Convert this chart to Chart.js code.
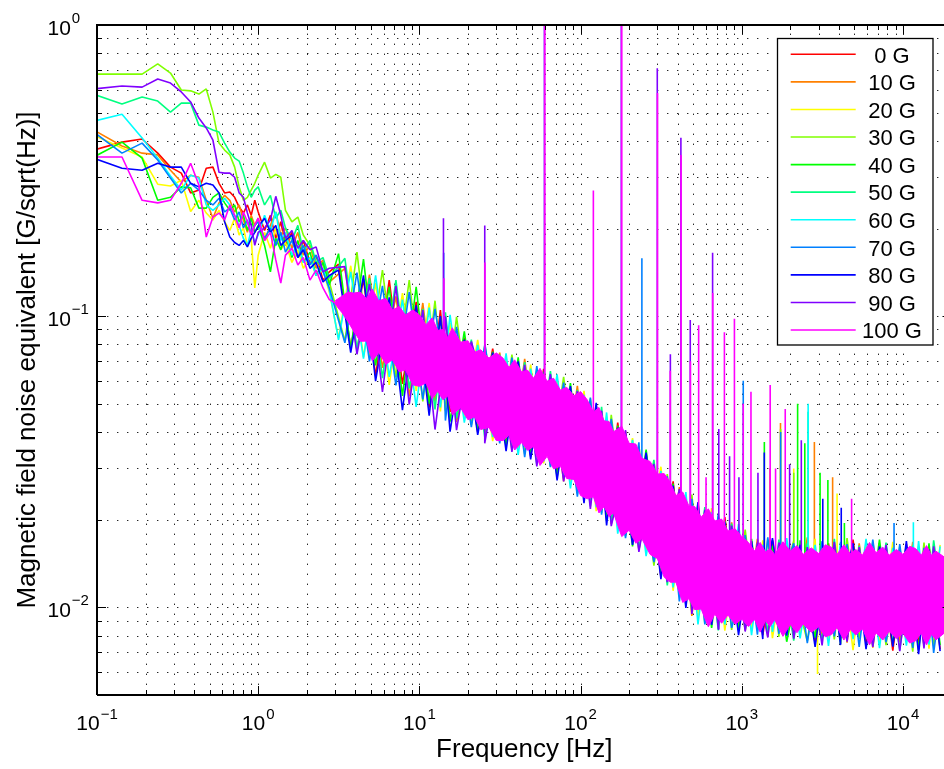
<!DOCTYPE html>
<html><head><meta charset="utf-8">
<script src="https://cdn.jsdelivr.net/npm/chart.js@4.4.0/dist/chart.umd.min.js"></script>
<style>
html,body{margin:0;padding:0;background:#fff;overflow:hidden;}
#wrap{width:944px;height:769px;overflow:hidden;position:relative;background:#fff;}
canvas{display:block;}
</style></head><body>
<div id="wrap"><canvas id="c" width="960" height="769"></canvas></div>
<script>
// ---------- DATA ----------
const seriesLabels = ['0 G','10 G','20 G','30 G','40 G','50 G','60 G','70 G','80 G','90 G','100 G'];
const seriesColors = ['#ff0000','#ff8000','#ffff00','#80ff00','#00ff00','#00ff80','#00ffff','#0080ff','#0000ff','#8000ff','#ff00ff'];

// low-frequency FFT bins (Hz)
const lfFreq = [0.0952,0.1429,0.1905,0.2381,0.2857,0.3333,0.3810,0.4286,0.4762,0.5238,0.5714,0.6190,0.6667,0.7143,0.7619,0.8095,0.8571,0.9048,0.9524,1.0,1.0952,1.1905,1.2857,1.3810,1.4762,1.6190,1.7619,1.9048,2.0952,2.2857,2.5238,2.7619];

const s0   = [0.372,0.396,0.406,0.363,0.325,0.310,0.265,0.271,0.322,0.325,0.286,0.265,0.267,0.256,0.237,0.226,0.241,0.222,0.250,0.228,0.197,0.222,0.185,0.211,0.175,0.194,0.159,0.182,0.153,0.162,0.133,0.142];
const s10  = [0.436,0.384,0.363,0.358,0.317,0.289,0.305,0.300,0.250,0.217,0.245,0.260,0.250,0.228,0.241,0.214,0.194,0.222,0.205,0.217,0.182,0.205,0.228,0.190,0.201,0.171,0.194,0.162,0.175,0.146,0.156,0.131];
const s20  = [0.419,0.378,0.352,0.284,0.280,0.293,0.229,0.250,0.226,0.214,0.231,0.211,0.197,0.217,0.190,0.201,0.175,0.185,0.125,0.162,0.194,0.171,0.201,0.169,0.179,0.153,0.169,0.146,0.159,0.138,0.144,0.121];
const s30  = [0.678,0.678,0.678,0.735,0.684,0.598,0.594,0.579,0.603,0.502,0.393,0.372,0.358,0.325,0.278,0.250,0.256,0.271,0.286,0.305,0.338,0.298,0.307,0.300,0.231,0.211,0.219,0.190,0.175,0.153,0.150,0.131];
const s40  = [0.352,0.396,0.349,0.250,0.256,0.278,0.276,0.235,0.235,0.256,0.265,0.245,0.231,0.241,0.211,0.222,0.197,0.217,0.194,0.205,0.175,0.142,0.185,0.169,0.190,0.159,0.182,0.153,0.166,0.138,0.153,0.128];
const s50  = [0.579,0.535,0.566,0.548,0.502,0.539,0.539,0.453,0.446,0.436,0.429,0.393,0.366,0.349,0.341,0.310,0.278,0.256,0.271,0.278,0.241,0.260,0.217,0.231,0.201,0.182,0.205,0.166,0.182,0.153,0.159,0.135];
const s60  = [0.467,0.494,0.409,0.349,0.303,0.271,0.305,0.298,0.241,0.231,0.241,0.254,0.241,0.222,0.205,0.185,0.175,0.197,0.179,0.190,0.222,0.197,0.228,0.182,0.194,0.162,0.175,0.153,0.159,0.138,0.146,0.123];
const s70  = [0.429,0.363,0.393,0.344,0.298,0.265,0.286,0.271,0.250,0.241,0.254,0.228,0.235,0.214,0.228,0.201,0.214,0.190,0.205,0.211,0.185,0.201,0.175,0.194,0.166,0.182,0.159,0.175,0.150,0.162,0.142,0.125];
const s80  = [0.349,0.322,0.317,0.335,0.325,0.325,0.286,0.278,0.286,0.282,0.265,0.211,0.187,0.179,0.175,0.182,0.173,0.185,0.194,0.203,0.217,0.194,0.205,0.175,0.182,0.190,0.159,0.169,0.146,0.153,0.131,0.138];
const s90  = [0.603,0.617,0.612,0.652,0.632,0.589,0.544,0.479,0.443,0.402,0.312,0.310,0.310,0.300,0.265,0.256,0.226,0.205,0.175,0.194,0.201,0.214,0.258,0.222,0.185,0.197,0.171,0.182,0.169,0.173,0.142,0.146];
const s100 = [0.352,0.352,0.250,0.245,0.250,0.286,0.335,0.282,0.187,0.219,0.226,0.214,0.241,0.222,0.201,0.228,0.211,0.190,0.205,0.217,0.182,0.194,0.156,0.130,0.162,0.171,0.150,0.159,0.133,0.144,0.125,0.114];

// broadband noise region: sample frequencies (Hz)
const tipFreqA = [3.15,3.75,4.5,5.35,6.5,7.85,9.55,11.5,13.5,15.5,19,23,28.5,34.5,41,49,59,71.5,86.5,105,125,145,170,210,255,315,375,450,535,650,785,955,1150,1350,1550,1900,2300,2850,3450,4100,4900,5900,7150,8650,10500,12500,14500,17000];
const tipFreqB = [3.45,4.1,4.9,5.9,7.15,8.65,10.5,12.5,14.5,17,21,25.5,31.5,37.5,45,53.5,65,78.5,95.5,115,135,155,190,230,285,345,410,490,590,715,865,1050,1250,1450,1700,2100,2550,3150,3750,4500,5350,6500,7850,9550,11500,13500,15500,19000];

const band0  = [0.151,0.0780,0.134,0.0622,0.133,0.0585,0.112,0.0485,0.105,0.0469,0.0844,0.0400,0.0774,0.0372,0.0688,0.0330,0.0659,0.0293,0.0566,0.0236,0.0496,0.0206,0.0431,0.0170,0.0335,0.0128,0.0271,0.0105,0.0223,0.00885,0.0204,0.00862,0.0168,0.00803,0.0170,0.00812,0.0161,0.00755,0.0166,0.00791,0.0171,0.00753,0.0160,0.00710,0.0165,0.00754,0.0162,0.00718];
const band10 = [0.146,0.0760,0.139,0.0664,0.117,0.0530,0.111,0.0509,0.0982,0.0433,0.0811,0.0396,0.0750,0.0347,0.0713,0.0328,0.0623,0.0271,0.0576,0.0229,0.0469,0.0193,0.0403,0.0157,0.0316,0.0125,0.0259,0.00934,0.0214,0.00882,0.0196,0.00832,0.0172,0.00794,0.0165,0.00807,0.0174,0.00801,0.0162,0.00757,0.0166,0.00727,0.0162,0.00760,0.0168,0.00735,0.0159,0.00710];
const band20 = [0.0840,0.149,0.0725,0.130,0.0581,0.120,0.0554,0.111,0.0471,0.0946,0.0448,0.0829,0.0372,0.0723,0.0353,0.0682,0.0312,0.0611,0.0266,0.0554,0.0214,0.0452,0.0188,0.0381,0.0156,0.0304,0.0114,0.0239,0.00931,0.0219,0.00832,0.0186,0.00836,0.0170,0.00784,0.0165,0.00808,0.0172,0.00772,0.0161,0.00713,0.0165,0.00753,0.0168,0.00763,0.0162,0.00721,0.0164];
const band30 = [0.0820,0.166,0.0720,0.144,0.0616,0.133,0.0510,0.113,0.0474,0.0994,0.0423,0.0795,0.0378,0.0738,0.0336,0.0659,0.0305,0.0619,0.0246,0.0521,0.0211,0.0458,0.0176,0.0358,0.0139,0.0287,0.01092,0.0244,0.00880,0.0205,0.00836,0.0185,0.00839,0.0171,0.00792,0.0169,0.00766,0.0162,0.00776,0.0173,0.00780,0.0168,0.00741,0.0162,0.00704,0.0167,0.00737,0.0163];
const band40 = [0.164,0.0770,0.157,0.0678,0.126,0.0532,0.126,0.0500,0.0989,0.0434,0.0886,0.0410,0.0756,0.0358,0.0722,0.0335,0.0644,0.0280,0.0589,0.0239,0.0488,0.0198,0.0421,0.0162,0.0348,0.0133,0.0266,0.0102,0.0227,0.00850,0.0198,0.00835,0.0172,0.00842,0.0163,0.00762,0.0170,0.00786,0.0164,0.00748,0.0165,0.00778,0.0171,0.00745,0.0160,0.00713,0.0166,0.00742];
const band50 = [0.158,0.0770,0.135,0.0613,0.133,0.0565,0.106,0.0478,0.103,0.0446,0.0831,0.0381,0.0738,0.0356,0.0696,0.0310,0.0648,0.0278,0.0558,0.0222,0.0488,0.0197,0.0393,0.0158,0.0321,0.0119,0.0251,0.00972,0.0221,0.00834,0.0194,0.00839,0.0165,0.00813,0.0171,0.00769,0.0166,0.00776,0.0172,0.00780,0.0163,0.00738,0.0167,0.00713,0.0163,0.00740,0.0170,0.00751];
const band60 = [0.0830,0.142,0.0715,0.138,0.0619,0.114,0.0488,0.107,0.0486,0.101,0.0431,0.0797,0.0384,0.0745,0.0334,0.0660,0.0317,0.0631,0.0256,0.0537,0.0221,0.0467,0.0179,0.0376,0.0150,0.0294,0.0117,0.0249,0.00874,0.0212,0.00873,0.0193,0.00803,0.0164,0.00823,0.0173,0.00783,0.0164,0.00737,0.0168,0.00778,0.0172,0.00724,0.0160,0.00739,0.0169,0.00745,0.0162];
const band70 = [0.0810,0.141,0.0700,0.127,0.0579,0.121,0.0518,0.106,0.0438,0.0919,0.0416,0.0801,0.0366,0.0720,0.0328,0.0674,0.0303,0.0591,0.0240,0.0525,0.0208,0.0444,0.0173,0.0369,0.0143,0.0282,0.01049,0.0236,0.00873,0.0209,0.00850,0.0177,0.00806,0.0174,0.00811,0.0166,0.00754,0.0169,0.00795,0.0165,0.00732,0.0171,0.00759,0.0165,0.00726,0.0160,0.00698,0.0167];
const band80 = [0.144,0.0750,0.138,0.0598,0.116,0.0476,0.109,0.0455,0.100,0.0401,0.0831,0.0391,0.0750,0.0344,0.0700,0.0322,0.0628,0.0273,0.0575,0.0228,0.0504,0.0191,0.0414,0.0164,0.0340,0.0125,0.0262,0.00995,0.0230,0.00870,0.0196,0.00803,0.0169,0.00778,0.0173,0.00799,0.0164,0.00732,0.0161,0.00742,0.0166,0.00718,0.0162,0.00733,0.0169,0.00691,0.0158,0.00707];
const band90 = [0.148,0.0740,0.129,0.0549,0.127,0.0498,0.105,0.0408,0.0998,0.0406,0.0818,0.0366,0.0727,0.0342,0.0680,0.0305,0.0633,0.0271,0.0553,0.0218,0.0473,0.0190,0.0406,0.0155,0.0311,0.0122,0.0255,0.00949,0.0216,0.00841,0.0191,0.00826,0.0167,0.00788,0.0167,0.00781,0.0161,0.00740,0.0168,0.00762,0.0161,0.00732,0.0164,0.00707,0.0159,0.00723,0.0162,0.00699];

// 100 G dense band: upper / lower extent on its own grid
const bandFreq = [3.0,3.3,3.6,3.9,4.3,4.7,5.1,5.6,6.2,6.8,7.5,8.2,9.1,10,11,12,13,14,15,16,18,20,22,24,27,30,33,36,39,43,47,51,56,62,68,75,82,91,100,110,120,130,140,150,160,180,200,220,240,270,300,330,360,390,430,470,510,560,620,680,750,820,910,1000,1100,1200,1300,1400,1500,1600,1800,2000,2200,2400,2700,3000,3300,3600,3900,4300,4700,5100,5600,6200,6800,7500,8200,9100,10000,11000,12000,13000,14000,15000,16000,18000,20000];
const band100Hi = [0.113,0.117,0.121,0.120,0.121,0.115,0.124,0.113,0.115,0.105,0.108,0.101,0.105,0.101,0.0935,0.0987,0.0894,0.0900,0.0843,0.0912,0.0814,0.0823,0.0752,0.0767,0.0718,0.0748,0.0718,0.0666,0.0708,0.0644,0.0652,0.0612,0.0662,0.0598,0.0612,0.0557,0.0570,0.0533,0.0551,0.0516,0.0468,0.0486,0.0437,0.0435,0.0401,0.0419,0.0366,0.0364,0.0325,0.0317,0.0287,0.0288,0.0269,0.0242,0.0249,0.0223,0.0222,0.0204,0.0218,0.0198,0.0201,0.0183,0.0186,0.0175,0.0167,0.0156,0.0167,0.0155,0.0159,0.0152,0.0168,0.0156,0.0163,0.0152,0.0160,0.0153,0.0164,0.0161,0.0152,0.0164,0.0153,0.0158,0.0151,0.0167,0.0154,0.0161,0.0151,0.0158,0.0152,0.0162,0.0159,0.0151,0.0163,0.0151,0.0156,0.0149,0.0165];
const band100Lo = [0.110,0.103,0.096,0.089,0.0820,0.0821,0.0702,0.0751,0.0683,0.0708,0.0644,0.0654,0.0581,0.0574,0.0590,0.0521,0.0552,0.0516,0.0532,0.0458,0.0485,0.0441,0.0451,0.0408,0.0415,0.0374,0.0374,0.0390,0.0347,0.0368,0.0346,0.0357,0.0307,0.0330,0.0299,0.0305,0.0277,0.0275,0.0242,0.0236,0.0240,0.0211,0.0222,0.0205,0.0211,0.0175,0.0184,0.0166,0.0172,0.0152,0.0147,0.0127,0.0122,0.0122,0.0104,0.0107,0.00982,0.00987,0.00857,0.00947,0.00882,0.00941,0.00875,0.00911,0.00859,0.00910,0.00822,0.00900,0.00859,0.00907,0.00795,0.00873,0.00818,0.00877,0.00821,0.00857,0.00792,0.00806,0.00853,0.00772,0.00839,0.00804,0.00845,0.00743,0.00818,0.00772,0.00827,0.00781,0.00815,0.00754,0.00768,0.00816,0.00743,0.00808,0.00773,0.00815,0.00717];

// narrow lines (mains harmonics etc.): [frequency Hz, peak value, surrounding level]
const spikes0   = [[1501,0.030,0.0117]];
const spikes10  = [[1738,0.043,0.0117],[2820,0.037,0.0113],[3660,0.028,0.0113]];
const spikes20  = [[2100,0.030,0.0117],[2950,0.0059,0.0113],[3900,0.0246,0.0113]];
const spikes30  = [[1741,0.041,0.0117],[2101,0.029,0.0117]];
const spikes40  = [[1380,0.037,0.0118],[2220,0.050,0.0117],[2460,0.0366,0.0117],[3060,0.029,0.0113],[3420,0.0274,0.0113],[4330,0.0195,0.0113]];
const spikes50  = [[2579,0.047,0.0117]];
const spikes60  = [[2580,0.050,0.0117],[11600,0.0196,0.0111]];
const spikes70  = [[14.15,0.165,0.068],[240,0.158,0.024],[1021,0.060,0.0119],[1742,0.040,0.0117],[8800,0.0195,0.0111]];
const spikes80  = [[1379,0.034,0.0118],[3180,0.0236,0.0113],[4140,0.022,0.0113]];
const spikes90  = [[14.1,0.217,0.068],[25.4,0.205,0.056],[59.6,1.5,0.045],[178.8,1.5,0.027],[299,0.71,0.0205],[360.5,0.074,0.018],[419,0.41,0.017],[479,0.097,0.0154],[659,0.165,0.0137],[720,0.041,0.0135],[840,0.033,0.013],[960,0.028,0.0126],[1260,0.029,0.0118],[1980,0.031,0.0117],[2340,0.0375,0.0117]];
const spikes100 = [[14.2,0.135,0.068],[25.5,0.153,0.056],[60,1.5,0.045],[120,0.27,0.034],[180,1.5,0.027],[300,0.584,0.0205],[360,0.065,0.018],[420,0.358,0.017],[480,0.070,0.0154],[540,0.093,0.0143],[600,0.028,0.0139],[660,0.12,0.0137],[780,0.088,0.0132],[900,0.098,0.0127],[1020,0.050,0.0119],[1140,0.055,0.0118],[1500,0.058,0.0117],[1620,0.030,0.0117],[1860,0.048,0.0117],[4800,0.0236,0.0113]];

// axis tick exponents
const xTickExp = [-1,0,1,2,3,4];
const yTickExp = [-2,-1,0];
const minorMult = [2,3,4,5,6,7,8,9];

// ---------- BUILD ----------
const lowVals = [s0,s10,s20,s30,s40,s50,s60,s70,s80,s90,s100];
const bandVals = [band0,band10,band20,band30,band40,band50,band60,band70,band80,band90,null];
const bandGrid = [tipFreqA,tipFreqB,tipFreqA,tipFreqB,tipFreqA,tipFreqB,tipFreqA,tipFreqB,tipFreqA,tipFreqB,null];
const spikeLists = [spikes0,spikes10,spikes20,spikes30,spikes40,spikes50,spikes60,spikes70,spikes80,spikes90,spikes100];

const datasets = [];
for (let s = 0; s < 11; s++) {
  let pts = lfFreq.map((f, i) => ({x: f, y: lowVals[s][i]}));
  if (bandVals[s]) pts = pts.concat(bandGrid[s].map((f, i) => ({x: f, y: bandVals[s][i]})));
  spikeLists[s].forEach(([f, peak, base]) => {
    pts.push({x: f * 0.9996, y: base}, {x: f, y: peak}, {x: f * 1.0004, y: base});
  });
  pts.sort((p, q) => p.x - q.x);
  datasets.push({
    label: seriesLabels[s], data: pts, borderColor: seriesColors[s], backgroundColor: seriesColors[s],
    borderWidth: 1.6, pointRadius: 0, fill: false, borderJoinStyle: 'bevel',
    order: s === 10 ? 0 : 11 - s, inLegend: true
  });
}
datasets.push({label: '100 G band', data: bandFreq.map((f, i) => ({x: f, y: band100Hi[i]})),
  borderColor: '#ff00ff', backgroundColor: '#ff00ff', borderWidth: 1, pointRadius: 0, fill: false, order: 1, borderJoinStyle: 'bevel'});
datasets.push({label: '100 G band ', data: bandFreq.map((f, i) => ({x: f, y: band100Lo[i]})),
  borderColor: '#ff00ff', backgroundColor: '#ff00ff', borderWidth: 1, pointRadius: 0, fill: '-1', order: 1, borderJoinStyle: 'bevel'});

const FONT = '"Liberation Sans", Arial, Helvetica, sans-serif';
function supText(e) { return e < 0 ? '\u2212' + (-e) : String(e); }

const decor = {
  id: 'decor',
  beforeDatasetsDraw(chart) {
    const {ctx, chartArea: a} = chart;
    const xs = chart.scales.x, ys = chart.scales.y;
    ctx.save();
    ctx.strokeStyle = 'rgba(0,0,0,0.85)';
    ctx.lineWidth = 1;
    ctx.setLineDash([1.4, 8.6]);
    for (let e = -1; e <= 4; e++) for (const m of [1, ...minorMult]) {
      const v = m * Math.pow(10, e);
      if (v <= xs.min * 1.0001 || v >= xs.max) continue;
      const px = Math.round(xs.getPixelForValue(v)) + 0.5;
      ctx.beginPath(); ctx.moveTo(px, a.bottom); ctx.lineTo(px, a.top); ctx.stroke();
    }
    for (let e = -3; e <= -1; e++) for (const m of [1, ...minorMult]) {
      const v = m * Math.pow(10, e);
      if (v <= ys.min * 1.0001 || v >= ys.max * 0.9999) continue;
      const py = Math.round(ys.getPixelForValue(v)) + 0.5;
      ctx.beginPath(); ctx.moveTo(a.left, py); ctx.lineTo(a.right, py); ctx.stroke();
    }
    ctx.restore();
  },
  afterDatasetsDraw(chart) {
    const {ctx, chartArea: a} = chart;
    const xs = chart.scales.x, ys = chart.scales.y;
    ctx.save();
    ctx.setLineDash([]);
    ctx.strokeStyle = '#000';
    ctx.fillStyle = '#000';
    ctx.lineWidth = 1;
    const tickX = (v, len) => {
      const px = Math.round(xs.getPixelForValue(v)) + 0.5;
      ctx.beginPath(); ctx.moveTo(px, a.bottom); ctx.lineTo(px, a.bottom - len);
      ctx.moveTo(px, a.top); ctx.lineTo(px, a.top + len); ctx.stroke();
    };
    const tickY = (v, len) => {
      const py = Math.round(ys.getPixelForValue(v)) + 0.5;
      ctx.beginPath(); ctx.moveTo(a.left, py); ctx.lineTo(a.left + len, py);
      ctx.moveTo(a.right, py); ctx.lineTo(a.right - len, py); ctx.stroke();
    };
    for (let e = -1; e <= 4; e++) for (const m of [1, ...minorMult]) {
      const v = m * Math.pow(10, e);
      if (v < xs.min || v > xs.max) continue;
      tickX(v, m === 1 ? 9 : 5);
    }
    for (let e = -3; e <= 0; e++) for (const m of [1, ...minorMult]) {
      const v = m * Math.pow(10, e);
      if (v < ys.min * 0.9999 || v > ys.max * 1.0001) continue;
      tickY(v, m === 1 ? 9 : 5);
    }
    ctx.lineWidth = 2;
    ctx.beginPath();
    ctx.moveTo(a.left, a.bottom); ctx.lineTo(a.left, a.top); ctx.lineTo(a.right, a.top);
    ctx.moveTo(a.left, a.bottom); ctx.lineTo(a.right, a.bottom); ctx.lineTo(a.right, a.top);
    ctx.stroke();
    ctx.textBaseline = 'alphabetic';
    ctx.textAlign = 'left';
    const mainF = '21px ' + FONT, supF = '15px ' + FONT;
    xTickExp.forEach(e => {
      const cx = xs.getPixelForValue(Math.pow(10, e));
      ctx.font = mainF; const w1 = ctx.measureText('10').width;
      ctx.font = supF; const w2 = ctx.measureText(supText(e)).width;
      const x0 = cx - (w1 + 1 + w2) / 2;
      ctx.font = mainF; ctx.fillText('10', x0, 730);
      ctx.font = supF; ctx.fillText(supText(e), x0 + w1 + 1, 719);
    });
    yTickExp.forEach(e => {
      const cy = ys.getPixelForValue(Math.pow(10, e));
      ctx.font = mainF; const w1 = ctx.measureText('10').width;
      ctx.fillText('10', 47.5, cy + 9.5);
      ctx.font = supF; ctx.fillText(supText(e), 47.5 + w1 + 1, cy - 2);
    });
    ctx.font = '26px ' + FONT;
    ctx.textAlign = 'center';
    ctx.fillText('Frequency [Hz]', (a.left + a.right) / 2, 757);
    ctx.save();
    ctx.translate(35, (a.top + a.bottom) / 2);
    ctx.rotate(-Math.PI / 2);
    ctx.fillText('Magnetic field noise equivalent [G/sqrt(Hz)]', 0, 0);
    ctx.restore();
    const lx = 777.5, ly = 38.5, lw = 155.5, lh = 306.5;
    ctx.fillStyle = '#fff';
    ctx.fillRect(lx, ly, lw, lh);
    ctx.strokeStyle = '#000';
    ctx.lineWidth = 1.3;
    ctx.strokeRect(lx, ly, lw, lh);
    ctx.font = '22px ' + FONT;
    ctx.textAlign = 'center';
    let row = 0;
    chart.data.datasets.forEach(ds => {
      if (!ds.inLegend) return;
      const yy = 54.3 + row * 27.57;
      ctx.strokeStyle = ds.borderColor;
      ctx.lineWidth = 1.6;
      ctx.beginPath(); ctx.moveTo(790.7, yy); ctx.lineTo(855.7, yy); ctx.stroke();
      ctx.fillStyle = '#000';
      ctx.fillText(ds.label, 892, yy + 8.3);
      row++;
    });
    ctx.restore();
  }
};

new Chart(document.getElementById('c'), {
  type: 'line',
  data: {datasets},
  options: {
    responsive: false,
    maintainAspectRatio: false,
    animation: false,
    devicePixelRatio: 1,
    layout: {padding: {left: 97, top: 25, right: 8.5, bottom: 74}},
    elements: {point: {radius: 0}, line: {tension: 0}},
    scales: {
      x: {type: 'logarithmic', min: 0.1, max: 20000, display: false},
      y: {type: 'logarithmic', min: 0.005, max: 1, display: false}
    },
    plugins: {legend: {display: false}, tooltip: {enabled: false}, filler: {propagate: false}}
  },
  plugins: [decor]
});
</script></body></html>
